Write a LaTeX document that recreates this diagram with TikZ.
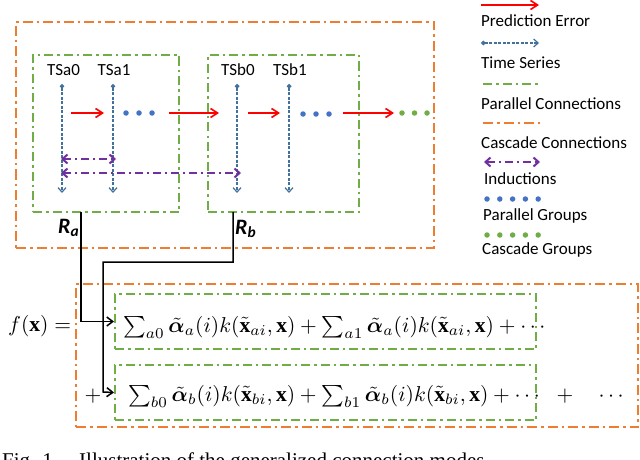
\documentclass[tikz,border=0pt]{standalone}
\usepackage{amsmath,bm}
\usepackage{graphicx}
\usepackage{fontspec}
\setmainfont{Liberation Serif}
\newfontfamily\calfont{Carlito}
\usetikzlibrary{arrows.meta}
\definecolor{myorange}{RGB}{237,125,49}
\definecolor{mygreen}{RGB}{112,173,71}
\definecolor{myblue}{RGB}{65,113,156}
\definecolor{mydotblue}{RGB}{68,114,196}
\definecolor{mypurple}{RGB}{112,48,160}
\tikzset{
  obox/.style={draw=myorange, line width=2pt, dash pattern=on 10pt off 4pt on 2.5pt off 4pt},
  gbox/.style={draw=mygreen, line width=2pt, dash pattern=on 9pt off 4pt on 2.5pt off 4pt},
  tsline/.style={draw=myblue, line width=1.2pt, dash pattern=on 3pt off 1.5pt,
     {Circle[length=4.5pt,width=4.5pt]}-{Straight Barb[length=4.5pt,width=8pt,line width=1.2pt]}},
  perr/.style={draw=red, line width=1.6pt, -{Straight Barb[length=7pt,width=9pt]}},
  ind/.style={draw=mypurple, line width=2pt, dash pattern=on 8pt off 4pt on 2pt off 4pt,
     {Straight Barb[length=5pt,width=9pt]}-{Straight Barb[length=5pt,width=9pt]}},
  conn/.style={draw=black, line width=1.5pt, -{Straight Barb[length=6pt,width=9pt]}},
  pdot/.style={circle, fill=mydotblue, inner sep=0pt, minimum size=5.5pt},
  cdot/.style={circle, fill=mygreen, inner sep=0pt, minimum size=5.5pt},
  lbl/.style={font=\calfont\fontsize{17}{20}\selectfont, inner sep=0pt},
  rlbl/.style={font=\calfont\bfseries\itshape\fontsize{22}{24}\selectfont, inner sep=0pt, anchor=base west},
  mth/.style={inner sep=0pt, anchor=base west},
  box/.style={inner sep=0pt},
}
\newcommand{\mscale}[1]{\scalebox{2.15}{$#1$}}
\begin{document}
\begin{tikzpicture}[x=1pt,y=-1pt]
\useasboundingbox (0,0) rectangle (640,460);
\clip (0,0) rectangle (640,460);
\fill[white] (0,0) rectangle (640,460);

% outer orange and green boxes
\node[obox, box, minimum width=418pt, minimum height=226pt] (outer) at (225,135) {};
\node[gbox, box, minimum width=146pt, minimum height=157pt] (A) at (106,133.5) {};
\node[gbox, box, minimum width=151pt, minimum height=157pt] (B) at (283.5,133.5) {};

% TS labels
\node[lbl, anchor=base] (ta0) at (63.5,76) {TSa0};
\node[lbl, anchor=base] (ta1) at (114,76) {TSa1};
\node[lbl, anchor=base] (tb0) at (238,76) {TSb0};
\node[lbl, anchor=base] (tb1) at (290,76) {TSb1};

% time series lines
\coordinate (a0t) at (62,84);   \coordinate (a0b) at (62,193);
\coordinate (a1t) at (113,84);  \coordinate (a1b) at (113,193);
\coordinate (b0t) at (237,84);  \coordinate (b0b) at (237,193);
\coordinate (b1t) at (289,84);  \coordinate (b1b) at (289,193);
\draw[tsline] (a0t) -- (a0b);
\draw[tsline] (a1t) -- (a1b);
\draw[tsline] (b0t) -- (b0b);
\draw[tsline] (b1t) -- (b1b);

% prediction error arrows
\coordinate (p1s) at (71,113);  \coordinate (p1e) at (104,113);
\coordinate (p2s) at (169,113); \coordinate (p2e) at (219,113);
\coordinate (p3s) at (248,113); \coordinate (p3e) at (280,113);
\coordinate (p4s) at (343,113); \coordinate (p4e) at (394,113);
\draw[perr] (p1s) -- (p1e);
\draw[perr] (p2s) -- (p2e);
\draw[perr] (p3s) -- (p3e);
\draw[perr] (p4s) -- (p4e);

% dots
\node[pdot] (d1) at (126,113) {};
\node[pdot] (d2) at (139,113) {};
\node[pdot] (d3) at (152,113) {};
\node[pdot] (d4) at (303,114) {};
\node[pdot] (d5) at (316,114) {};
\node[pdot] (d6) at (329,114) {};
\node[cdot] (g1) at (402,113) {};
\node[cdot] (g2) at (414.5,113) {};
\node[cdot] (g3) at (427,113) {};

% inductions
\coordinate (i1s) at (61,159); \coordinate (i1e) at (116,159);
\coordinate (i2s) at (61,173); \coordinate (i2e) at (241,173);
\draw[ind] (i1s) -- (i1e);
\draw[ind] (i2s) -- (i2e);

% R labels
\node[rlbl] (Ra) at (58,233) {R\textsubscript{a}};
\node[rlbl] (Rb) at (235,234) {R\textsubscript{b}};

% lower part
\node[obox, box, minimum width=562pt, minimum height=143pt] (lower) at (357,355.5) {};
\node[gbox, box, minimum width=421pt, minimum height=55pt] (row1) at (325.5,321.5) {};
\node[gbox, box, minimum width=421pt, minimum height=55pt] (row2) at (325.5,392.5) {};

\node[mth] (fx) at (8,331) {\mscale{f(\mathbf{x}) =}};
\node[mth] (t1) at (123,332.5) {\mscale{\sum\nolimits_{a0}\tilde{\bm{\alpha}}_a(i)k(\tilde{\mathbf{x}}_{ai},\mathbf{x})+\sum\nolimits_{a1}\tilde{\bm{\alpha}}_a(i)k(\tilde{\mathbf{x}}_{ai},\mathbf{x})+\cdots}};
\node[mth] (t2) at (128,401.5) {\mscale{\sum\nolimits_{b0}\tilde{\bm{\alpha}}_b(i)k(\tilde{\mathbf{x}}_{bi},\mathbf{x})+\sum\nolimits_{b1}\tilde{\bm{\alpha}}_b(i)k(\tilde{\mathbf{x}}_{bi},\mathbf{x})+\cdots}};
\node[inner sep=0pt, anchor=base] (pl) at (93,401.5) {\mscale{+}};
\node[inner sep=0pt, anchor=base] (pr) at (565,401.5) {\mscale{+}};
\node[inner sep=0pt, anchor=base] (dr) at (613,401.5) {\mscale{\cdots}};

% connectors
\coordinate (ca) at (81,212);
\coordinate (cb) at (233,212);
\draw[conn] (ca) |- (row1.west);
\draw[conn] (cb) -- (233,262) -| (103,392) -- (row2.west);

% legend
\draw[perr] (481,5) -- (539,5);
\node[lbl, anchor=base west] (lg1) at (481,27) {Prediction Error};
\draw[tsline] (481,43) -- (539,43);
\node[lbl, anchor=base west] (lg2) at (481,68.5) {Time Series};
\draw[gbox] (483,84) -- (540,84);
\node[lbl, anchor=base west] (lg3) at (481,110) {Parallel Connections};
\draw[obox] (483,123) -- (540,123);
\node[lbl, anchor=base west] (lg4) at (481,148) {Cascade Connections};
\draw[ind] (484,162) -- (540,162);
\node[lbl, anchor=base west] (lg5) at (484,184) {Inductions};
\foreach \i in {0,...,4} {\node[pdot] at (487+12.8*\i,199) {};}
\node[lbl, anchor=base west] (lg6) at (483,220) {Parallel Groups};
\foreach \i in {0,...,4} {\node[cdot] at (487+12.8*\i,235) {};}
\node[lbl, anchor=base west] (lg7) at (482,254) {Cascade Groups};

% caption (cut by the page edge)
\node[inner sep=0pt, anchor=north west, font=\fontsize{21}{24}\selectfont] (cap) at (2,452.5) {Fig. 1.\quad Illustration of the generalized connection modes.};
\end{tikzpicture}
\end{document}
